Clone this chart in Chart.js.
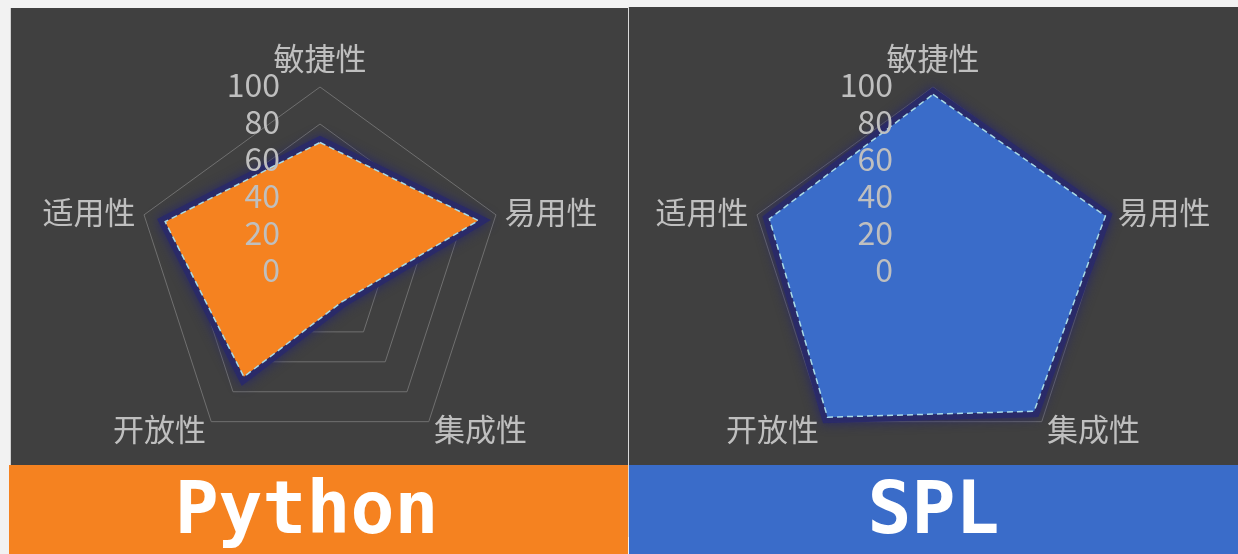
<!DOCTYPE html>
<html>
<head>
<meta charset="utf-8">
<script src="https://cdn.jsdelivr.net/npm/chart.js@4.4.1/dist/chart.umd.min.js"></script>
<style>
  html, body { margin: 0; padding: 0; }
  body { width: 1238px; height: 554px; background: #f2f2f2; position: relative; overflow: hidden; }
  .panel { position: absolute; background: #404040; }
  #p1 { left: 10px; top: 8px; width: 618px; height: 457px; border-left: 1px solid #d0d0d0; box-sizing: border-box; }
  #p2 { left: 629px; top: 7px; width: 609px; height: 458px; }
  .sep { position: absolute; left: 628px; top: 7px; width: 1px; height: 530px; background: #d9d9d9; }
  canvas { position: absolute; left: 0; top: 0; }
  .bar { position: absolute; top: 465px; height: 89px; color: #fff; font-family: "DejaVu Sans Mono", monospace; font-weight: bold; font-size: 73px; line-height: 89px; text-align: center; }
  #b1 { left: 9px; width: 619px; background: #F58220; }
  #b2 { left: 629px; width: 609px; background: #3A6CC9; }
</style>
</head>
<body>
<div class="panel" id="p1"><canvas id="c1" width="618" height="457"></canvas></div>
<div class="panel" id="p2"><canvas id="c2" width="609" height="458"></canvas></div>
<div class="bar" id="b1"><span style="position:relative;left:-12px;top:-2px;">Python</span></div>
<div class="bar" id="b2"><span style="position:relative;top:-2px;">SPL</span></div>
<div class="sep"></div>
<script>
const categories = ['敏捷性', '易用性', '集成性', '开放性', '适用性'];
const pythonValues = [70, 90, 20, 70, 88];
const splValues = [96, 98, 93, 97, 93];
const tickValues = [0, 20, 40, 60, 80, 100];
const panelTitles = ['Python', 'SPL'];

const textColor = '#bfbfbf';
const cjkFont = '"Noto Sans CJK SC", "Noto Sans", sans-serif';

const glowPlugin = {
  id: 'glow',
  beforeDatasetDraw(chart, args) {
    if (args.index === 1) {
      const ctx = chart.ctx;
      ctx.save();
      ctx.shadowColor = 'rgba(38,38,110,1)';
      ctx.shadowBlur = 12;
    }
  },
  afterDatasetDraw(chart, args) {
    if (args.index === 1) chart.ctx.restore();
  }
};

const labelPlugin = {
  id: 'labels',
  afterDatasetsDraw(chart) {
    const ctx = chart.ctx;
    const s = chart.scales.r;
    ctx.save();
    ctx.font = '32px ' + cjkFont;
    ctx.fillStyle = textColor;
    ctx.textAlign = 'right';
    ctx.textBaseline = 'middle';
    tickValues.forEach(v => {
      const d = s.getDistanceFromCenterForValue(v);
      ctx.fillText(String(v), s.xCenter - 40, s.yCenter - d - 2);
    });
    ctx.font = '31px ' + cjkFont;
    chart.data.labels.forEach((lab, i) => {
      const p = s.getPointPosition(i, s.drawingArea + 9);
      const sx = Math.cos(p.angle);
      const up = -Math.sin(p.angle);
      let align = 'center';
      if (sx > 0.05) align = 'left'; else if (sx < -0.05) align = 'right';
      ctx.textAlign = align;
      ctx.textBaseline = 'middle';
      let y = p.y;
      if (up > 0.9) y = p.y - 20;
      ctx.fillText(lab, p.x, y);
    });
    ctx.restore();
  }
};

function makeChart(id, values, fillColor, padTop, padBottom) {
  return new Chart(document.getElementById(id), {
    type: 'radar',
    data: {
      labels: categories,
      datasets: [
        {
          data: values,
          fill: true,
          backgroundColor: fillColor,
          borderColor: '#a9dbe6',
          borderWidth: 1.5,
          borderDash: [6, 4],
          borderJoinStyle: 'miter',
          pointRadius: 0,
          tension: 0
        },
        {
          data: values,
          fill: false,
          backgroundColor: 'transparent',
          borderColor: 'rgba(42,42,105,0.95)',
          borderWidth: 12,
          borderJoinStyle: 'miter',
          pointRadius: 0,
          tension: 0
        }
      ]
    },
    options: {
      responsive: false,
      animation: false,
      layout: { padding: { top: padTop, bottom: padBottom, left: 0, right: 0 } },
      plugins: { legend: { display: false }, tooltip: { enabled: false } },
      scales: {
        r: {
          min: 0,
          max: 100,
          ticks: { display: false, stepSize: 20 },
          grid: { color: '#707070', lineWidth: 1 },
          angleLines: { display: false },
          pointLabels: { display: false }
        }
      }
    },
    plugins: [glowPlugin, labelPlugin]
  });
}

makeChart('c1', pythonValues, '#F58220', 79, 8);
makeChart('c2', splValues, '#3A6CC9', 80, 8);
</script>
</body>
</html>
